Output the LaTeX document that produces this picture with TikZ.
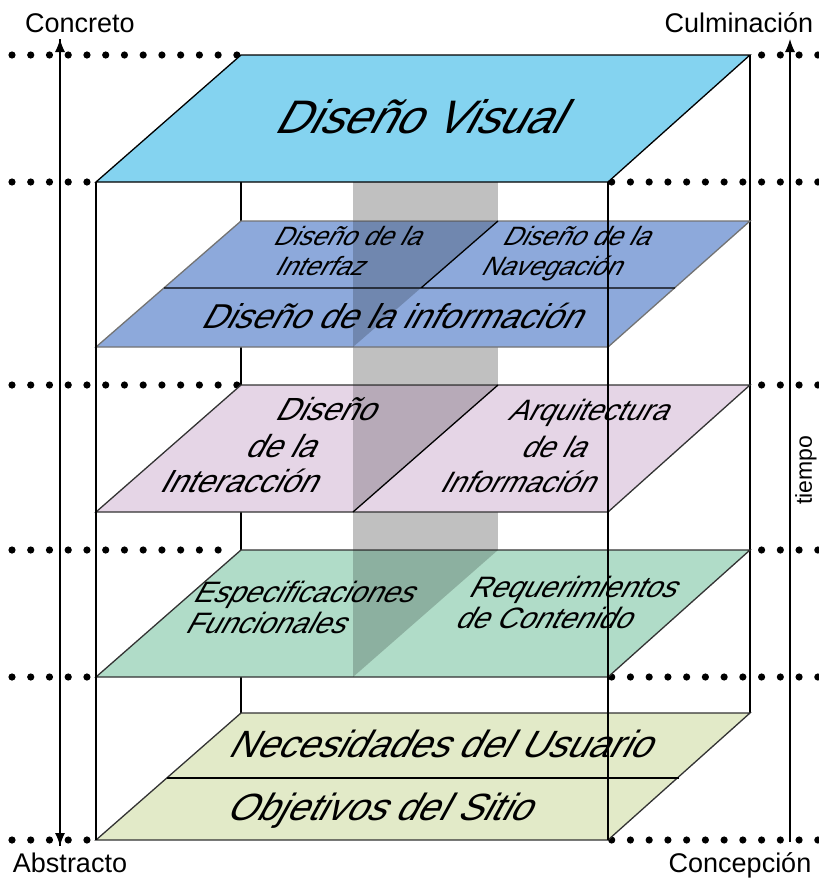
\documentclass[tikz,border=0pt]{standalone}
\usepackage{fontspec}
\setmainfont{Liberation Sans}
\newfontfamily\layerfont[FakeSlant=0.55]{Liberation Sans}
\usetikzlibrary{arrows.meta}
\definecolor{visualblue}{RGB}{132,211,240}
\definecolor{infoblue}{RGB}{141,169,219}
\definecolor{interpink}{RGB}{229,213,230}
\definecolor{specgreen}{RGB}{176,220,200}
\definecolor{needbeige}{RGB}{226,234,200}
\definecolor{bandgray}{RGB}{192,192,192}
% the five layers, front edge first
\def\visualplane{(96,182) -- (608,182) -- (750,55) -- (241,55) -- cycle}
\def\infoplane{(96,347) -- (608,347) -- (750,221) -- (241,221) -- cycle}
\def\interplane{(96,512) -- (608,512) -- (750,385) -- (241,385) -- cycle}
\def\specplane{(96,677) -- (608,677) -- (750,550) -- (241,550) -- cycle}
\def\needplane{(96,840) -- (608,840) -- (750,713) -- (241,713) -- cycle}
% a row of dots: y, last dot on the left, first dot on the right
\newcommand\dotrow[3]{%
  \foreach \k in {0,...,#2} \fill (12+18.74*\k,#1) circle (3.6);
  \foreach \k in {#3,...,43} \fill (12+18.74*\k,#1) circle (3.6);}
\begin{document}
\begin{tikzpicture}[x=1pt, y=-1pt, line width=1.3pt,
	layertext/.style={font=\layerfont\fontsize{#1}{#1}\selectfont, anchor=base, inner sep=0pt},
	axislabel/.style={font=\fontsize{27}{27}\selectfont, anchor=base, inner sep=0pt},
	tip/.style={-{Latex[length=13pt,width=10pt]}}]
	\useasboundingbox (0,0) rectangle (819,878);
	\fill[bandgray] (353,182) rectangle (498,550);
	\draw (241,182) -- (241,713) (750,55) -- (750,713);
	\dotrow{55}{12}{40}
	\dotrow{182}{4}{32}
	\dotrow{385}{12}{40}
	\dotrow{550}{11}{40}
	\dotrow{677}{4}{32}
	\dotrow{840}{4}{32}
	\filldraw[fill=visualblue] \visualplane;
	\filldraw[fill=infoblue, draw=black!55] \infoplane;
	\filldraw[fill=interpink, draw=black!80] \interplane;
	\filldraw[fill=specgreen, draw=black!80] \specplane;
	\filldraw[fill=needbeige, draw=black!80] \needplane;
	% shadow of the band on the layers
	\fill[black, opacity=0.2] (353,221) -- (498,221) -- (353,347) -- cycle;
	\fill[black, opacity=0.2] (353,385) -- (498,385) -- (353,512) -- cycle;
	\fill[black, opacity=0.2] (353,550) -- (498,550) -- (353,677) -- cycle;
	\draw (164,288) -- (675,288) (498,221) -- (421,288);
	\draw (498,385) -- (353,512);
	\draw (167,778) -- (679,778);
	\draw (96,182) -- (96,840) (608,182) -- (608,840);
	\node[layertext=47] (visual) at (417,133) {Diseño Visual};
	\node[layertext=26.5] (interfaz1) at (346,245) {Diseño de la};
	\node[layertext=26.5] (interfaz2) at (318,275) {Interfaz};
	\node[layertext=26.5] (nav1) at (575,245) {Diseño de la};
	\node[layertext=26.5] (nav2) at (550,275) {Navegación};
	\node[layertext=34.5] (info) at (390,328) {Diseño de la información};
	\node[layertext=32] (inter1) at (324,420) {Diseño};
	\node[layertext=32] (inter2) at (279,457) {de la};
	\node[layertext=32] (inter3) at (237,492) {Interacción};
	\node[layertext=29.5] (arq1) at (587,420) {Arquitectura};
	\node[layertext=29.5] (arq2) at (552,457) {de la};
	\node[layertext=29.5] (arq3) at (516,492) {Información};
	\node[layertext=29.5] (spec1) at (302,602) {Especificaciones};
	\node[layertext=29.5] (spec2) at (264,633) {Funcionales};
	\node[layertext=29.5] (req1) at (571,597) {Requerimientos};
	\node[layertext=29.5] (req2) at (542,628) {de Contenido};
	\node[layertext=38] (needs) at (439,757) {Necesidades del Usuario};
	\node[layertext=38] (goals) at (378,820) {Objetivos del Sitio};
	% axes
	\coordinate (abstract) at (60,846);
	\coordinate (concrete) at (60,39);
	\coordinate (conception) at (790,842);
	\coordinate (culmination) at (790,39);
	\draw[tip] (abstract) -- (concrete);
	\draw[tip] (concrete) -- (abstract);
	\draw[tip] (conception) -- (culmination);
	\node[axislabel] (concreto) at (80,32) {Concreto};
	\node[axislabel] (culminacion) at (739,32) {Culminación};
	\node[axislabel] (abstracto) at (70,872) {Abstracto};
	\node[axislabel] (concepcion) at (740,872) {Concepción};
	\node[rotate=90, font=\fontsize{23}{23}\selectfont, inner sep=0pt] (tiempo) at (806,470) {tiempo};
\end{tikzpicture}
\end{document}
